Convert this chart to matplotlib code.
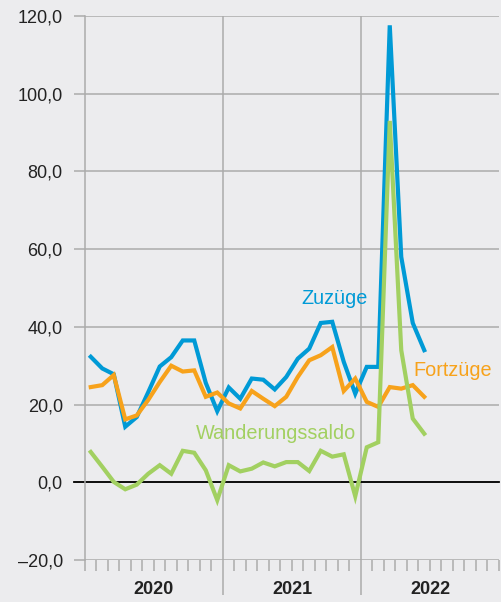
import matplotlib
matplotlib.use("Agg")
import matplotlib.pyplot as plt
import numpy as np

# ---- data (monthly, Jan 2020 - Jun 2022) ----
zuzuege = [32.3, 29.3, 27.8, 14.3, 16.8, 23.2, 29.8, 32.2, 36.5, 36.5, 25.6, 18.3,
           24.4, 21.5, 26.7, 26.4, 23.9, 27.1, 31.8, 34.4, 41.0, 41.3, 31.0, 22.8,
           29.7, 29.7, 117.6, 58.0, 41.0, 34.0]
fortzuege = [24.5, 25.0, 27.6, 16.2, 17.2, 21.2, 25.8, 30.0, 28.5, 28.8, 22.0, 23.1,
             20.3, 19.0, 23.5, 21.5, 19.6, 22.0, 27.1, 31.4, 32.7, 34.8, 23.5, 26.7,
             20.7, 19.4, 24.5, 24.1, 25.0, 22.0]
saldo = [7.8, 4.0, 0.1, -1.8, -0.6, 2.2, 4.4, 2.2, 8.1, 7.6, 3.1, -4.6,
         4.4, 2.8, 3.5, 5.1, 4.1, 5.2, 5.2, 2.9, 8.1, 6.6, 7.2, -3.6,
         9.0, 10.3, 93.0, 34.0, 16.4, 12.5]
years = ["2020", "2021", "2022"]
y_ticks = [-20, 0, 20, 40, 60, 80, 100, 120]
y_ticklabels = ["\u201320,0", "0,0", "20,0", "40,0", "60,0", "80,0", "100,0", "120,0"]
series_labels = ["Zuzüge", "Fortzüge", "Wanderungssaldo"]

# ---- style ----
bg = "#ececee"
grid_c = "#ababab"
c_blue = "#009ad6"
c_orange = "#f7a21b"
c_green = "#a2d061"

plt.rcParams["font.family"] = ["Liberation Sans", "DejaVu Sans"]

fig = plt.figure(figsize=(5.02, 6.02), dpi=100, facecolor=bg)
ax = fig.add_axes([85 / 502, 42 / 602, 414 / 502, 544 / 602])
ax.set_facecolor(bg)

x = np.arange(len(zuzuege)) + 0.5
lw = 3.0
ax.plot(x, zuzuege, color=c_blue, lw=lw, zorder=3, solid_joinstyle="miter")
ax.plot(x, fortzuege, color=c_orange, lw=lw, zorder=3, solid_joinstyle="miter")
ax.plot(x, saldo, color=c_green, lw=lw, zorder=4, solid_joinstyle="miter")

ax.set_xlim(0, 36)
ax.set_ylim(-20, 120)

# y axis
ax.set_yticks(y_ticks)
ax.set_yticklabels(y_ticklabels, fontsize=13, color="#222222")
ax.tick_params(axis="y", length=8, width=1.1, color=grid_c, pad=8)
ax.yaxis.grid(True, color=grid_c, lw=1.1, zorder=1)

# zero line
ax.axhline(0, xmin=-11 / 414, xmax=1, color="black", lw=1.3, zorder=2, clip_on=False)

# x axis: year boundaries and month ticks
ax.set_xticks([12, 24])
ax.set_xticklabels([])
ax.set_xticks(np.arange(0, 37), minor=True)
ax.tick_params(axis="x", which="major", length=25, width=1.1, color=grid_c)
ax.tick_params(axis="x", which="minor", length=8, width=1.1, color=grid_c)
ax.xaxis.grid(True, which="major", color=grid_c, lw=1.1, zorder=1)

for s in ["top", "right", "bottom"]:
    ax.spines[s].set_visible(False)
ax.spines["left"].set_color(grid_c)
ax.spines["left"].set_linewidth(1.1)

for i, yr in enumerate(years):
    ax.text(6 + 12 * i, -0.055, yr, transform=ax.get_xaxis_transform(),
            ha="center", va="center", fontsize=13, fontweight="bold", color="#222222")

# series labels
ax.text(21.7, 47.3, series_labels[0], color=c_blue, fontsize=14.3, ha="center", va="center")
ax.text(32.0, 28.8, series_labels[1], color=c_orange, fontsize=14.3, ha="center", va="center")
ax.text(16.65, 12.6, series_labels[2], color=c_green, fontsize=14.3, ha="center", va="center")

fig.savefig("out.png", dpi=100, facecolor=bg)
